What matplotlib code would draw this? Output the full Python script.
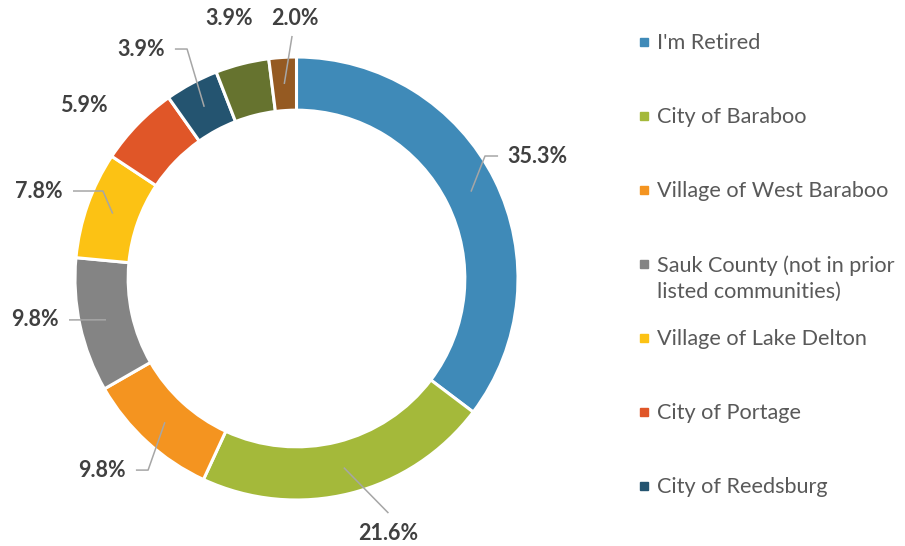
import numpy as np
import matplotlib.pyplot as plt
from matplotlib.patches import Rectangle

plt.rcParams['font.family'] = ['Lato', 'DejaVu Sans']

categories = ["I'm Retired", "City of Baraboo", "Village of West Baraboo",
              "Sauk County (not in prior\nlisted communities)", "Village of Lake Delton",
              "City of Portage", "City of Reedsburg", "Other", "Other (2)"]
shares = [35.3, 21.6, 9.8, 9.8, 7.8, 5.9, 3.9, 3.9, 2.0]
colors = ["#3f8ab8", "#a4b93a", "#f49420", "#848484", "#fcc214",
          "#e05628", "#245470", "#66732f", "#955a22"]
n_legend = 7  # the legend in the original is cut after Reedsburg

# label placement (data units, radius = 1): text x, text y, ha, leader elbow x
label_pos = [
    (0.950, 0.553, "left", 0.851),
    (0.415, -1.149, "center", None),
    (-0.770, -0.865, "right", -0.670),
    (-1.072, -0.187, "right", None),
    (-1.054, 0.395, "right", -0.874),
    (-0.959, 0.779, "center", None),
    (-0.594, 1.036, "right", -0.494),
    (-0.302, 1.172, "center", None),
    (-0.009, 1.172, "center", None),
]
has_leader = [True, True, True, True, True, False, True, False, True]

fig = plt.figure(figsize=(9.05, 5.46), dpi=100)
ax = fig.add_axes([75 / 905, 46 / 546, 443 / 905, 443 / 546])

ring = 0.24
wedges, _ = ax.pie(shares, colors=colors, startangle=90, counterclock=False,
                   radius=1, wedgeprops=dict(width=ring, edgecolor="white", linewidth=2.2))
ax.set_xlim(-1, 1)
ax.set_ylim(-1, 1)
ax.set_aspect("equal")
ax.axis("off")

line_col = "#a6a6a6"
mid_r = 1 - ring / 2
for w, val, (tx, ty, ha, ex), lead in zip(wedges, shares, label_pos, has_leader):
    ang = np.deg2rad((w.theta1 + w.theta2) / 2)
    axp, ayp = mid_r * np.cos(ang), mid_r * np.sin(ang)
    ax.text(tx, ty, f"{val:.1f}%", ha=ha, va="center", fontsize=15.5,
            fontweight="bold", color="#404040", clip_on=False)
    if not lead:
        continue
    if ha == "left":
        end = (tx - 0.04, ty)
    elif ha == "right":
        end = (tx + 0.045, ty)
    elif ty < 0:
        end = (tx, ty + 0.09)
    else:
        end = (tx - 0.011, ty - 0.077)
    if ex is not None:
        xs, ys = [axp, ex, end[0]], [ayp, ty, ty]
    else:
        xs, ys = [axp, end[0]], [ayp, end[1]]
    ax.plot(xs, ys, color=line_col, lw=1.1, clip_on=False, solid_capstyle="butt")

# legend
for i in range(n_legend):
    yc = 42 + 74 * i
    fig.patches.append(Rectangle((640 / 905, 1 - (yc + 4) / 546), 8 / 905, 8 / 546,
                                 transform=fig.transFigure, color=colors[i]))
    fig.text(657 / 905, 1 - (yc - 9) / 546, categories[i], ha="left", va="top",
             fontsize=15.6, color="#595959", linespacing=1.4)

fig.savefig("out.png", dpi=100)
